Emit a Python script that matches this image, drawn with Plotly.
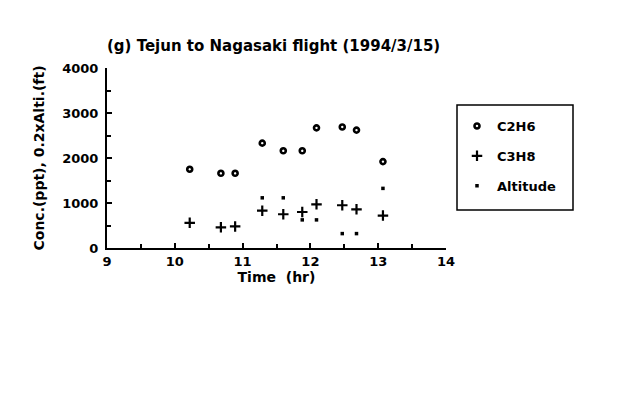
import plotly.graph_objects as go

time_hr = [10.22, 10.68, 10.89, 11.29, 11.60, 11.88, 12.09, 12.47, 12.68, 13.07]
c2h6 = [1750, 1660, 1660, 2330, 2160, 2160, 2670, 2690, 2620, 1920]
c3h8 = [560, 460, 480, 830, 750, 800, 970, 950, 860, 720]
altitude = [None, None, None, 1115, 1115, 625, 625, 320, 320, 1325]

FAM = "DejaVu Sans, Liberation Sans, sans-serif"
font = dict(family=FAM, size=13, color="black", weight="bold")

# page has an 8px body margin, so offsets below are in figure coordinates
L, T, W, H = 99, 60, 339, 180

fig = go.Figure()
fig.add_trace(go.Scatter(x=time_hr, y=c2h6, mode="markers", name="C2H6", legendgroup="a",
                         marker=dict(symbol="circle-open", size=5, color="black", line=dict(width=2.6))))
fig.add_trace(go.Scatter(x=time_hr, y=c3h8, mode="markers", name="C3H8", legendgroup="b",
                         marker=dict(symbol="cross-thin", size=7.5, color="black", line=dict(width=2.2, color="black"))))
fig.add_trace(go.Scatter(x=time_hr, y=altitude, mode="markers", name="Altitude", legendgroup="c",
                         marker=dict(symbol="square", size=3.5, color="black")))

fig.update_layout(
    width=630, height=396,
    margin=dict(l=L, r=630 - L - W, t=T, b=396 - T - H, autoexpand=False),
    paper_bgcolor="white", plot_bgcolor="white",
    font=font,
    title=dict(text="(g) Tejun to Nagasaki flight (1994/3/15)", x=L / 630, xanchor="left",
               y=1 - 38 / 396, yanchor="middle", font=dict(family=FAM, size=15, weight="bold")),
    showlegend=True,
    legend=dict(x=(449 - L) / W, y=(T + H - 103) / H, xanchor="left", yanchor="top",
                borderwidth=0, bgcolor="rgba(0,0,0,0)",
                font=dict(family=FAM, size=13, weight="bold"), tracegroupgap=10),
    shapes=[dict(type="rect", xref="paper", yref="paper",
                 x0=(449 - L) / W, x1=(565 - L) / W,
                 y0=(T + H - 202) / H, y1=(T + H - 97) / H,
                 line=dict(color="black", width=1.5))],
)
fig.update_xaxes(range=[9, 14], dtick=1, tick0=9, showgrid=False, zeroline=False,
                 showline=True, linecolor="black", linewidth=2,
                 ticks="inside", ticklen=5, tickwidth=1.5, tickcolor="black",
                 minor=dict(dtick=0.5, ticks="inside", ticklen=4, tickwidth=1.5, tickcolor="black"),
                 tickfont=dict(family=FAM, size=13, weight="bold"),
                 title=dict(text="Time  (hr)", standoff=2, font=dict(family=FAM, size=14, weight="bold")))
fig.update_yaxes(range=[0, 4000], dtick=1000, tick0=0, showgrid=False, zeroline=False,
                 showline=True, linecolor="black", linewidth=2,
                 ticks="inside", ticklen=5, tickwidth=1.5, tickcolor="black",
                 minor=dict(dtick=500, ticks="inside", ticklen=4, tickwidth=1.5, tickcolor="black"),
                 tickfont=dict(family=FAM, size=13, weight="bold"), ticklabelstandoff=4,
                 title=dict(text="Conc.(ppt), 0.2xAlti.(ft)", standoff=14, font=dict(family=FAM, size=14, weight="bold")))

fig.write_html("out.html")
